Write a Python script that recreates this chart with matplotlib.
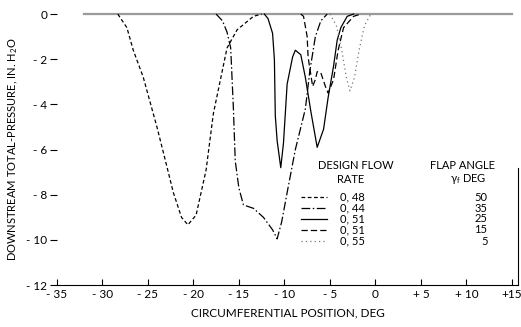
import matplotlib
matplotlib.use('Agg')
import matplotlib.pyplot as plt

plt.rcParams['font.family'] = ['Lato', 'DejaVu Sans']
plt.rcParams['mathtext.default'] = 'regular'

# pressure profiles
x_048 = [-28.3, -27.3, -26.6, -25.5, -24.0, -23.0, -22.2, -21.3, -20.6, -19.7, -18.6, -17.8, -16.3, -15.2, -13.4, -12.5]
y_048 = [0, -0.6, -1.6, -2.8, -5.0, -6.6, -7.9, -9.0, -9.33, -8.9, -6.9, -4.4, -1.5, -0.7, -0.1, 0]

x_044 = [-17.5, -16.8, -16.3, -15.9, -15.6, -15.4, -15.0, -14.5, -13.4, -12.3, -11.3, -10.8, -10.3, -9.7, -8.8, -7.7, -7.2, -6.6, -6.0, -5.3]
y_044 = [0, -0.3, -0.8, -1.5, -4.2, -6.5, -7.7, -8.45, -8.6, -9.0, -9.55, -9.95, -9.2, -7.9, -6.0, -4.2, -2.5, -1.0, -0.3, 0]

x_051a = [-12.2, -11.8, -11.3, -11.1, -11.0, -10.8, -10.4, -10.1, -9.7, -9.1, -8.8, -8.2, -7.7, -7.1, -6.4, -5.7, -5.2, -4.6, -4.2, -3.8, -3.1, -2.4]
y_051a = [0, -0.2, -0.85, -2.0, -4.5, -5.6, -6.8, -5.7, -3.1, -1.9, -1.6, -1.8, -2.8, -4.3, -5.9, -5.1, -3.7, -2.3, -1.15, -0.6, -0.1, 0]

x_051b = [-8.2, -7.9, -7.5, -7.4, -6.9, -6.6, -6.4, -6.0, -5.5, -5.2, -4.6, -4.1, -3.5, -2.4, -1.6]
y_051b = [0, -0.1, -1.0, -1.9, -3.2, -2.9, -2.55, -2.6, -3.2, -3.5, -2.9, -1.6, -0.6, -0.1, 0]

x_055 = [-5.0, -4.3, -3.7, -3.2, -2.8, -2.3, -1.8, -1.2, -0.5]
y_055 = [0, -0.5, -1.6, -2.8, -3.4, -2.8, -1.6, -0.5, 0]

flow = ['0.48', '0.44', '0.51', '0.51', '0.55']
flap = ['50', '35', '25', '15', '5']

xticks = [-35, -30, -25, -20, -15, -10, -5, 0, 5, 10, 15]
xlabels = ['- 35', '- 30', '- 25', '- 20', '- 15', '- 10', '- 5', '0', '+ 5', '+ 10', '+15']
yticks = [0, -2, -4, -6, -8, -10, -12]
ylabels = ['0', '- 2', '- 4', '- 6', '- 8', '- 10', '- 12']

fig = plt.figure(figsize=(5.21, 3.27), dpi=100)
ax = fig.add_axes([0.109, 0.128, 0.886, 0.829])

# flat zero line along the top
ax.plot([-32, 15], [0, 0], color='#9a9a9a', lw=1.6, clip_on=False, zorder=1)

styles = [
    dict(dashes=(3, 2), color='black'),
    dict(dashes=(7, 2, 1.2, 2), color='black'),
    dict(linestyle='-', color='black'),
    dict(dashes=(5, 2.5), color='black'),
    dict(dashes=(1, 2.5), color='#777777'),
]
series = [(x_048, y_048), (x_044, y_044), (x_051a, y_051a), (x_051b, y_051b), (x_055, y_055)]
for (xs, ys), st in zip(series, styles):
    ax.plot(xs, ys, lw=0.9, clip_on=False, zorder=3, **st)

ax.set_xlim(-35, 15.7)
ax.set_ylim(-12, 0)
ax.set_xticks(xticks)
ax.set_xticklabels(xlabels)
ax.set_yticks(yticks)
ax.set_yticklabels(ylabels)
ax.tick_params(axis='x', direction='in', length=4, width=0.8, labelsize=8.5, pad=3)
ax.tick_params(axis='y', direction='out', length=5, width=0.8, labelsize=8.5, pad=2)
ax.spines['top'].set_visible(False)
ax.spines['left'].set_visible(False)
ax.spines['right'].set_bounds(-12, -6.8)
ax.spines['right'].set_linewidth(0.8)
ax.spines['bottom'].set_linewidth(0.8)

ax.set_xlabel('CIRCUMFERENTIAL POSITION, DEG', fontsize=8.5, labelpad=5)
ax.set_ylabel('DOWNSTREAM TOTAL-PRESSURE, IN. H$_2$O', fontsize=8, labelpad=4)

# legend written as a small table
ax.text(-2.2, -6.7, 'DESIGN FLOW', fontsize=8, ha='center', va='center')
ax.text(-2.7, -7.32, 'RATE', fontsize=8, ha='center', va='center')
ax.text(9.6, -6.7, 'FLAP ANGLE', fontsize=8, ha='center', va='center')
ax.text(10.2, -7.32, r'$\gamma_f$ DEG', fontsize=8, ha='center', va='center')
rows = [-8.1, -8.6, -9.07, -9.55, -10.05]
for yr, fl, fa, st in zip(rows, flow, flap, styles):
    ax.plot([-8.2, -5.3], [yr, yr], lw=0.9, **st)
    ax.text(-3.85, yr, fl.replace('.', ', '), fontsize=8, ha='left', va='center')
    ax.text(12.3, yr, fa, fontsize=8, ha='right', va='center')

fig.savefig('out.png', dpi=100)
